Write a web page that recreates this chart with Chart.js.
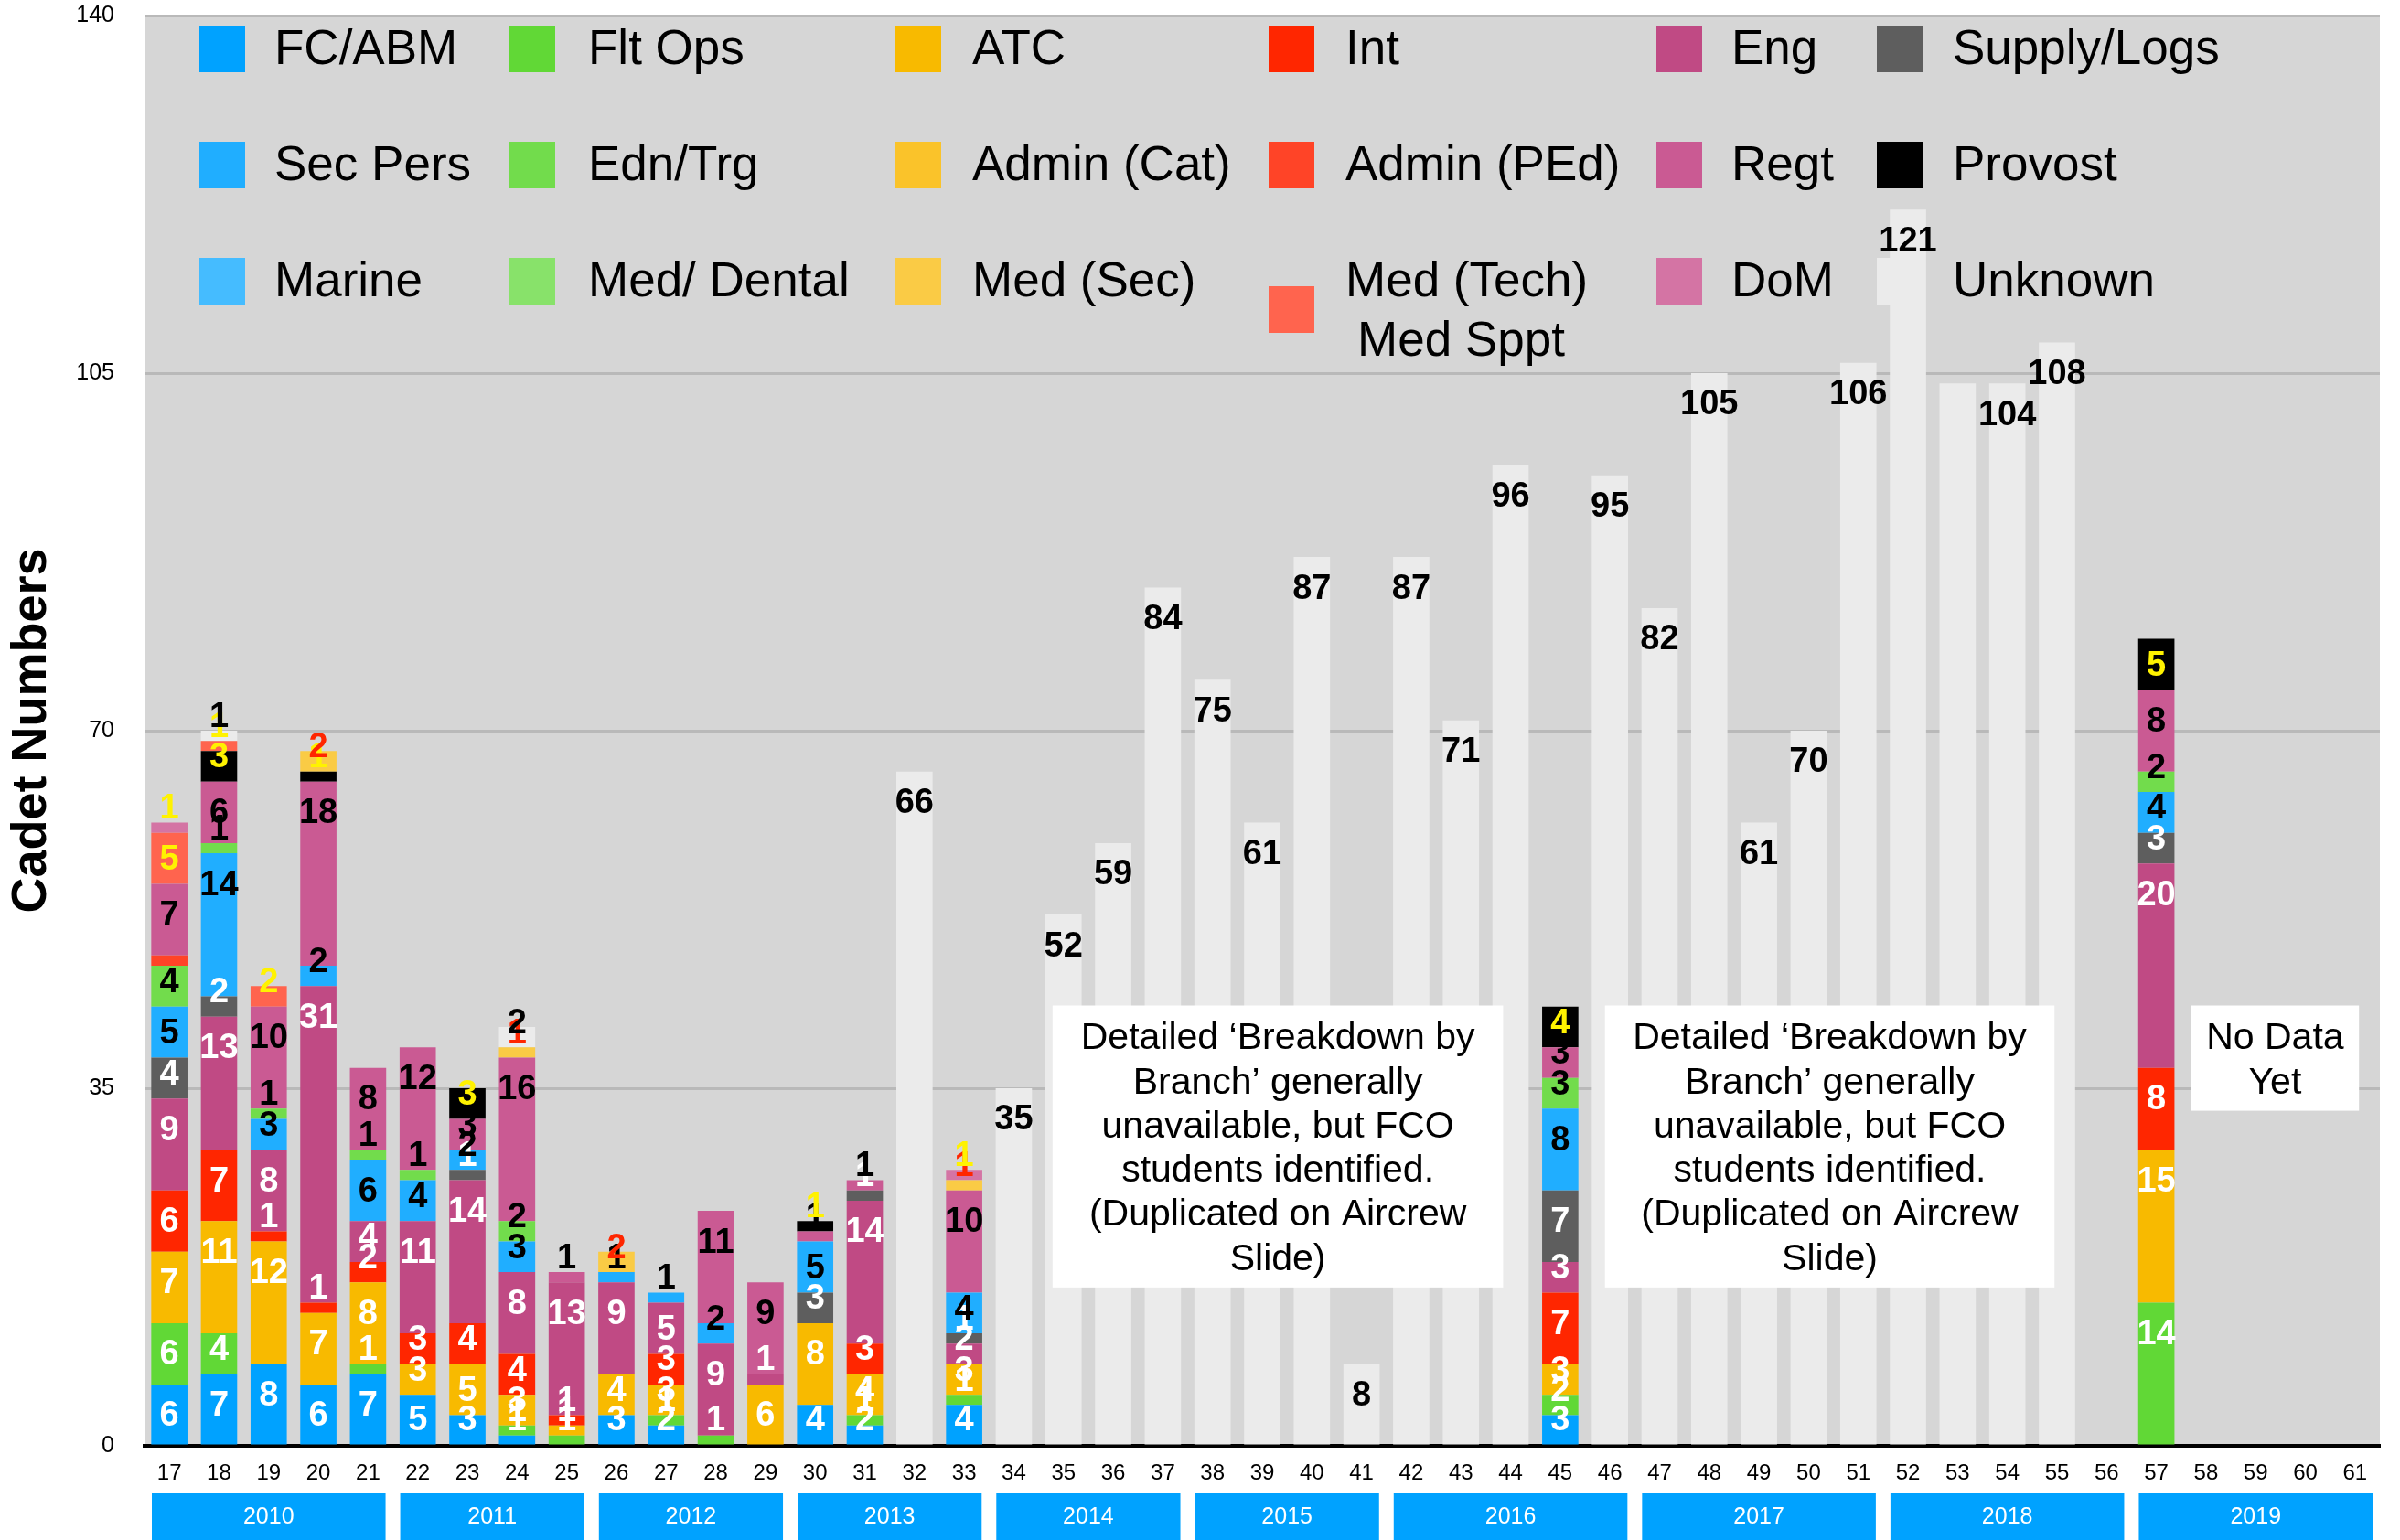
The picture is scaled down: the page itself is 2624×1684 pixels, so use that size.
<!DOCTYPE html>
<html lang="en">
<head>
<meta charset="UTF-8">
<title>Cadet Numbers by Branch</title>
<script src="https://cdn.jsdelivr.net/npm/chart.js"></script>
<style>
  body { margin: 0; background: #fff; }
</style>
</head>
<body>
<canvas id="cadetChart" width="2624" height="1684"></canvas>
<script>
// course numbers along the bottom
const courses = ['17','18','19','20','21','22','23','24','25','26','27','28','29','30','31','32','33',
                 '34','35','36','37','38','39','40','41','42','43','44','45',
                 '46','47','48','49','50','51','52','53','54','55','56','57','58','59','60','61'];

// year bands under the course numbers
const years     = ['2010','2011','2012','2013','2014','2015','2016','2017','2018','2019'];
const yearFirst = ['17','22','26','30','34','38','42','47','52','57'];
const yearLast  = ['21','25','29','33','37','41','46','51','56','61'];

// branch names, in stacking order (also legend order, row by row)
const branches = ['FC/ABM','Flt Ops','ATC','Int','Eng','Supply/Logs',
                  'Sec Pers','Edn/Trg','Admin (Cat)','Admin (PEd)','Regt','Provost',
                  'Marine','Med/ Dental','Med (Sec)','Med (Tech)','DoM','Unknown'];

//                 17 18 19 20 21 22 23 24 25 26 27 28 29 30 31 32 33 | 34 .. 44               |45| 46 .. 56              |57| 58-61
const fcAbm    = [6,7,8,6,7,5,3,1,0,3,2,0,0,4,2,0,4, 0,0,0,0,0,0,0,0,0,0,0, 3, 0,0,0,0,0,0,0,0,0,0,0, 0, 0,0,0,0];
const fltOps   = [6,4,0,0,1,0,0,1,1,0,1,1,0,0,1,0,1, 0,0,0,0,0,0,0,0,0,0,0, 2, 0,0,0,0,0,0,0,0,0,0,0, 14, 0,0,0,0];
const atc      = [7,11,12,7,8,3,5,3,1,4,3,0,6,8,4,0,3, 0,0,0,0,0,0,0,0,0,0,0, 3, 0,0,0,0,0,0,0,0,0,0,0, 15, 0,0,0,0];
const intel    = [6,7,1,1,2,3,4,4,1,0,3,0,0,0,3,0,0, 0,0,0,0,0,0,0,0,0,0,0, 7, 0,0,0,0,0,0,0,0,0,0,0, 8, 0,0,0,0];
const eng      = [9,13,8,31,4,11,14,8,13,9,5,9,1,0,14,0,2, 0,0,0,0,0,0,0,0,0,0,0, 3, 0,0,0,0,0,0,0,0,0,0,0, 20, 0,0,0,0];
const supply   = [4,2,0,0,0,0,1,0,0,0,0,0,0,3,1,0,1, 0,0,0,0,0,0,0,0,0,0,0, 7, 0,0,0,0,0,0,0,0,0,0,0, 3, 0,0,0,0];
const secPers  = [5,14,3,2,6,4,2,3,0,1,1,2,0,5,0,0,4, 0,0,0,0,0,0,0,0,0,0,0, 8, 0,0,0,0,0,0,0,0,0,0,0, 4, 0,0,0,0];
const ednTrg   = [4,1,1,0,1,1,0,2,0,0,0,0,0,0,0,0,0, 0,0,0,0,0,0,0,0,0,0,0, 3, 0,0,0,0,0,0,0,0,0,0,0, 2, 0,0,0,0];
const adminCat = [];
const adminPEd = [1,0,0,0,0,0,0,0,0,0,0,0,0,0,0,0,0, 0,0,0,0,0,0,0,0,0,0,0, 0, 0,0,0,0,0,0,0,0,0,0,0, 0, 0,0,0,0];
const regt     = [7,6,10,18,8,12,3,16,1,0,0,11,9,1,1,0,10, 0,0,0,0,0,0,0,0,0,0,0, 3, 0,0,0,0,0,0,0,0,0,0,0, 8, 0,0,0,0];
const provost  = [0,3,0,1,0,0,3,0,0,0,0,0,0,1,0,0,0, 0,0,0,0,0,0,0,0,0,0,0, 4, 0,0,0,0,0,0,0,0,0,0,0, 5, 0,0,0,0];
const marine   = [];
const medDent  = [];
const medSec   = [0,0,0,2,0,0,0,1,0,2,0,0,0,0,0,0,1, 0,0,0,0,0,0,0,0,0,0,0, 0, 0,0,0,0,0,0,0,0,0,0,0, 0, 0,0,0,0];
const medTech  = [5,1,2,0,0,0,0,0,0,0,0,0,0,0,0,0,0, 0,0,0,0,0,0,0,0,0,0,0, 0, 0,0,0,0,0,0,0,0,0,0,0, 0, 0,0,0,0];
const dom      = [1,0,0,0,0,0,0,0,0,0,0,0,0,0,0,0,1, 0,0,0,0,0,0,0,0,0,0,0, 0, 0,0,0,0,0,0,0,0,0,0,0, 0, 0,0,0,0];
const unknown  = [0,1,0,0,0,0,0,2,0,0,0,0,0,0,0,66,0, 35,52,59,84,75,61,87,8,87,71,96, 0,
                  95,82,105,61,70,106,121,104,104,108,0, 0, 0,0,0,0];

const yTicks = [0, 35, 70, 105, 140];

// labels the original leaves off
const hideLabel = [['17','Admin (PEd)'], ['53','Unknown']];

const series = [fcAbm, fltOps, atc, intel, eng, supply, secPers, ednTrg, adminCat, adminPEd,
                regt, provost, marine, medDent, medSec, medTech, dom, unknown];
const colors = ['#00a2ff','#61d836','#f8ba00','#ff2600','#c04a84','#5e5e5e',
                '#20aeff','#72dc4c','#fac32a','#ff4427','#ca5a93','#000000',
                '#45bcff','#88e26a','#facb45','#ff644e','#d474a4','#ebebeb'];
const labelColors = ['#fff','#fff','#fff','#fff','#fff','#fff',
                     '#000','#000','#000','#000','#000','#fff200',
                     '#fff200','#fff200','#ff2600','#fff200','#fff200','#000'];

const notes = [
  {from: 17.78, to: 26.85, top: 43.1, bottom: 15.5,
   lines: ['Detailed \u2018Breakdown by', 'Branch\u2019 generally', 'unavailable, but FCO',
           'students identified.', '(Duplicated on Aircrew', 'Slide)']},
  {from: 28.9, to: 37.95, top: 43.1, bottom: 15.5,
   lines: ['Detailed \u2018Breakdown by', 'Branch\u2019 generally', 'unavailable, but FCO',
           'students identified.', '(Duplicated on Aircrew', 'Slide)']},
  {from: 40.7, to: 44.08, top: 43.1, bottom: 32.8, lines: ['No Data', 'Yet']}
];

const FONT = '"Liberation Sans", Arial, Helvetica, sans-serif';
Chart.defaults.font.family = FONT;
Chart.defaults.color = '#000';

const plotBg = {
  id: 'plotBg',
  beforeDraw(chart) {
    const {ctx, chartArea: a} = chart;
    ctx.save();
    ctx.fillStyle = '#fff';
    ctx.fillRect(0, 0, chart.width, chart.height);
    ctx.fillStyle = '#d6d6d6';
    ctx.fillRect(a.left, a.top, a.right - a.left, a.bottom - a.top);
    ctx.restore();
  }
};

const extras = {
  id: 'extras',
  afterDatasetsDraw(chart) {
    const {ctx, chartArea: a, scales: {x, y}} = chart;
    ctx.save();

    // legend grid, 6 columns x 3 rows, inside the plot
    const swatchX = [60, 399, 821, 1229, 1653, 1894];
    const textX = [142, 485, 905, 1313, 1735, 1977];
    const rowY = [38, 165, 292];
    ctx.font = '53px ' + FONT;
    ctx.textBaseline = 'middle';
    ctx.textAlign = 'left';
    branches.forEach((name, i) => {
      const row = Math.floor(i / 6), col = i % 6;
      let cy = a.top + rowY[row];
      ctx.fillStyle = colors[i];
      if (name === 'Med (Tech)') {
        ctx.fillRect(a.left + swatchX[col], a.top + 321 - 25, 50, 51);
        ctx.fillStyle = '#000';
        ctx.fillText('Med (Tech)', a.left + textX[col], cy);
        ctx.fillText('Med Sppt', a.left + textX[col] + 13, cy + 65);
        return;
      }
      ctx.fillRect(a.left + swatchX[col], cy - 27, 50, 51);
      ctx.fillStyle = '#000';
      ctx.fillText(name, a.left + textX[col], cy);
    });

    // white note boxes
    notes.forEach(n => {
      const l = x.getPixelForValue(n.from), r = x.getPixelForValue(n.to);
      const t = y.getPixelForValue(n.top), b = y.getPixelForValue(n.bottom);
      ctx.fillStyle = '#fff';
      ctx.fillRect(l, t, r - l, b - t);
      ctx.fillStyle = '#000';
      ctx.font = '41px ' + FONT;
      ctx.textAlign = 'center';
      const lh = 48.3;
      const y0 = (t + b) / 2 - (n.lines.length - 1) * lh / 2 + 3;
      n.lines.forEach((s, k) => ctx.fillText(s, (l + r) / 2, y0 + k * lh));
    });

    // value labels on each segment
    ctx.font = 'bold 38px ' + FONT;
    ctx.textAlign = 'center';
    chart.data.datasets.forEach((ds, di) => {
      const meta = chart.getDatasetMeta(di);
      meta.data.forEach((bar, i) => {
        const v = ds.data[i];
        if (!v) return;
        if (hideLabel.some(h => h[0] === courses[i] && h[1] === ds.label)) return;
        const ly = Math.min(bar.base - 26, bar.y + 35);
        ctx.fillStyle = labelColors[di];
        ctx.fillText(String(v), bar.x, ly);
      });
    });
    ctx.restore();
  },
  afterDraw(chart) {
    const {ctx, chartArea: a, scales: {x}} = chart;
    const half = (a.right - a.left) / courses.length / 2;
    ctx.save();
    ctx.font = '25px ' + FONT;
    ctx.textAlign = 'center';
    ctx.textBaseline = 'middle';
    years.forEach((yr, k) => {
      const l = x.getPixelForValue(courses.indexOf(yearFirst[k])) - half + 8;
      const r = x.getPixelForValue(courses.indexOf(yearLast[k])) + half - 8;
      const t = a.bottom + 52;
      ctx.fillStyle = '#00a2ff';
      ctx.fillRect(l, t, r - l, chart.height - t);
      ctx.fillStyle = '#fff';
      ctx.fillText(yr, (l + r) / 2, (t + chart.height) / 2 + 1);
    });
    ctx.restore();
  }
};

new Chart(document.getElementById('cadetChart'), {
  type: 'bar',
  data: {
    labels: courses,
    datasets: branches.map((name, i) => ({
      label: name,
      data: series[i],
      backgroundColor: colors[i],
      borderWidth: 0,
      barPercentage: 0.73,
      categoryPercentage: 1
    }))
  },
  options: {
    responsive: false,
    animation: false,
    layout: { padding: { top: 17, right: 22, left: 0, bottom: 0 } },
    plugins: {
      legend: { display: false },
      tooltip: { enabled: false }
    },
    scales: {
      x: {
        stacked: true,
        grid: { display: false, drawTicks: false },
        border: { display: true, color: '#000', width: 4 },
        ticks: { font: { size: 24 }, color: '#000', padding: 16, maxRotation: 0, autoSkip: false },
        afterFit(scale) { scale.height = 103; }
      },
      y: {
        stacked: true,
        min: 0,
        max: 140,
        afterBuildTicks(scale) { scale.ticks = yTicks.map(v => ({value: v})); },
        grid: {
          color: ctx => ctx.tick && ctx.tick.value === 0 ? 'rgba(0,0,0,0)' : '#b9b9b9',
          lineWidth: 3,
          drawTicks: true,
          tickLength: 33,
          tickColor: 'rgba(0,0,0,0)'
        },
        border: { display: false },
        ticks: { font: { size: 25 }, color: '#000', padding: 0 },
        title: {
          display: true,
          text: 'Cadet Numbers',
          font: { size: 54, weight: 'bold' },
          color: '#000',
          padding: { top: 3, bottom: 0 }
        },
        afterFit(scale) { scale.width = 158; }
      }
    }
  },
  plugins: [plotBg, extras]
});
</script>
</body>
</html>
